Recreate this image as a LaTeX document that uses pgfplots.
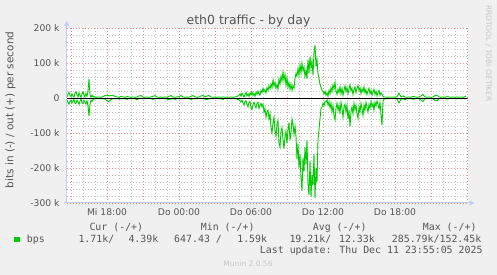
\documentclass[border=0pt]{standalone}
\usepackage{pgfplots}
\pgfplotsset{compat=1.18}
\usepackage{pgfplotstable}
\usepackage{fontspec}
\setmainfont{DejaVu Sans}
\newfontfamily\monof{DejaVu Sans Mono}
\usetikzlibrary{arrows.meta}
\definecolor{bgc}{HTML}{F0F0F0}
\definecolor{grn}{HTML}{00CC00}
\definecolor{txt}{HTML}{555555}
\definecolor{faint}{HTML}{C8C8C8}
\definecolor{majg}{HTML}{EC8C8C}
\definecolor{ming}{HTML}{C4C4C4}
\definecolor{axc}{HTML}{C4CCF4}

% x = 5-minute slots since Wed 00:00 ; values in kbit/s (out positive, in negative)
\pgfplotstableread{
x outb inb
176 3 -5
177 10 -12
178 16 -18
179 8 -10
180 4 -6
181 12 -14
182 6 -8
183 2 -4
184 14 -16
185 18 -15
186 9 -6
187 3 -10
188 15 -18
189 7 -9
190 2 -3
191 12 -13
192 17 -16
193 8 -7
194 3 -12
195 13 -17
196 5 -8
197 20 -22
198 54 -52
199 10 -18
200 2 -6
201 8 -10
202 3 -4
203 5 -3
204 2 -2
205 3 -2
206 2 -1
208 3 -2
210 2 -1
212 4 -2
214 7 -3
216 8 -8
218 6 -10
220 7 -4
222 8 -2
224 4 -2
226 3 -1
228 2 -3
230 5 -2
232 3 -1
234 2 -2
236 4 -4
238 3 -1
240 2 -2
242 3 -1
244 2 -2
246 3 -5
248 6 -2
250 7 -1
252 3 -2
254 2 -1
256 3 -2
258 2 -1
260 3 -2
262 5 -4
264 7 -2
266 3 -1
268 2 -2
270 3 -1
272 2 -2
274 3 -1
276 2 -3
278 5 -5
280 7 -2
282 3 -1
284 2 -4
286 3 -2
288 4 -1
290 7 -2
292 3 -1
294 2 -2
296 3 -1
298 2 -2
300 5 -4
302 7 -2
304 3 -1
306 2 -2
308 3 -1
310 6 -2
312 7 -1
314 3 -3
316 6 -5
318 7 -2
320 3 -1
322 2 -2
324 3 -1
326 2 -2
328 3 -1
330 2 -2
332 3 -4
334 2 -1
336 3 -2
338 2 -1
340 3 -2
342 2 -1
344 3 -2
346 4 -3
348 8 -6
349 12 -8
350 5 -12
351 14 -6
352 8 -14
353 3 -20
354 10 -10
355 16 -8
356 6 -18
357 12 -25
358 4 -12
359 15 -10
360 9 -28
361 18 -33
362 7 -18
363 13 -12
364 5 -22
365 16 -28
366 10 -15
367 20 -12
368 12 -30
369 8 -20
370 22 -15
371 15 -25
372 28 -18
373 18 -40
374 24 -30
375 14 -55
376 30 -40
377 22 -35
378 35 -60
379 26 -45
380 40 -85
381 30 -100
382 52 -70
383 34 -55
384 45 -95
385 28 -110
386 38 -75
387 25 -65
388 55 -130
389 40 -140
390 62 -95
391 48 -85
392 75 -120
393 50 -145
394 68 -110
395 36 -95
396 58 -130
397 30 -90
398 45 -70
399 25 -120
400 40 -100
401 22 -60
402 35 -75
403 28 -105
404 55 -80
405 70 -110
406 62 -175
407 85 -130
408 65 -200
409 95 -160
410 72 -230
411 100 -265
412 78 -170
413 88 -210
414 60 -140
415 80 -190
416 55 -120
417 110 -245
418 70 -277
419 118 -180
420 85 -282
421 105 -220
422 65 -250
423 130 -160
424 151 -287
425 90 -200
426 110 -240
427 70 -120
428 55 -90
429 40 -60
430 30 -30
431 22 -26
432 18 -15
433 12 -22
434 20 -10
435 8 -12
436 15 -5
437 5 -20
438 22 -10
439 12 -28
440 30 -15
441 18 -40
442 38 -22
443 25 -50
444 45 -63
445 20 -30
446 10 -15
447 25 -35
448 15 -20
449 32 -45
450 12 -12
451 28 -30
452 8 -55
453 22 -25
454 35 -18
455 18 -40
456 30 -20
457 12 -60
458 25 -35
459 38 -82
460 20 -40
461 28 -25
462 10 -45
463 24 -15
464 32 -35
465 15 -20
466 28 -45
467 36 -58
468 22 -25
469 30 -40
470 12 -15
471 26 -30
472 18 -50
473 32 -20
474 14 -35
475 24 -12
476 10 -28
477 20 -40
478 28 -18
479 12 -30
480 22 -10
481 8 -25
482 18 -15
483 25 -35
484 10 -12
485 20 -22
486 6 -8
487 16 -18
488 22 -30
489 8 -12
490 15 -50
491 10 -77
492 5 -10
493 3 -3
494 3 -2
496 2 -1
498 3 -2
500 2 -1
502 3 -2
504 2 -1
506 4 -3
508 14 -14
510 3 -4
512 6 -2
514 3 -5
516 2 -1
518 3 -2
520 2 -1
522 5 -4
524 3 -2
526 2 -1
528 3 -2
530 6 -6
532 10 -10
534 3 -2
536 2 -1
538 3 -2
540 2 -1
542 3 -2
544 7 -7
546 8 -8
548 3 -2
550 2 -1
552 3 -2
554 2 -1
556 4 -3
558 3 -2
560 2 -1
562 3 -2
564 2 -1
566 3 -2
568 2 -1
570 3 -2
572 2 -1
574 4 -2
575 6 -2
}\traffic

\begin{document}
\begin{tikzpicture}
\path[use as bounding box, fill=bgc] (0,0) rectangle (497bp,275bp);
\begin{axis}[
  at={(66.7bp,72bp)}, anchor=south west,
  scale only axis, width=401bp, height=175bp,
  xmin=175.7, xmax=576.7, ymin=-300, ymax=200,
  axis background/.style={fill=white},
  axis line style={draw=none},
  major tick length=0pt, minor tick length=0pt,
  xtick={180,216,...,576},
  xticklabels={,Mi 18:00,,Do 00:00,,Do 06:00,,Do 12:00,,Do 18:00,,},
  minor x tick num=2,
  ytick={-300,-200,...,200},
  yticklabels={-300 k,-200 k,-100 k,0,100 k,200 k},
  minor y tick num=4,
  grid=both,
  major grid style={majg, line width=1bp, dash pattern=on 1bp off 2bp},
  minor grid style={ming, line width=1bp, dash pattern=on 1bp off 2bp},
  tick label style={font=\fontsize{9.2bp}{11bp}\selectfont, text=txt, inner sep=0pt},
  yticklabel style={anchor=east, xshift=-7bp},
  xticklabel style={anchor=north, yshift=-5.5bp},
]
\addplot[grn, line width=0.9bp] table[x=x, y=outb]{\traffic};
\addplot[grn, line width=0.9bp] table[x=x, y=inb]{\traffic};
\addplot[black, line width=1bp] coordinates {(175.7,0) (576.7,0)};
\end{axis}
% axis lines with arrows
\draw[axc, line width=1bp, -{Triangle[length=5bp,width=5bp]}] (66.7bp,71.5bp) -- (66.7bp,254bp);
\draw[axc, line width=1bp, -{Triangle[length=5bp,width=5bp]}] (64bp,72bp) -- (474.5bp,72bp);
% texts
\node[font=\fontsize{12.5bp}{14bp}\selectfont, text=txt, anchor=base, inner sep=0pt] at (248.5bp,250.7bp) {eth0 traffic - by day};
\node[rotate=90, font=\fontsize{10.5bp}{12bp}\selectfont, text=txt, inner sep=0pt] at (10.5bp,165bp) {bits in (-) / out (+) per second};
\node[rotate=-90, font=\fontsize{7.5bp}{9bp}\selectfont, text=faint, inner sep=0pt] at (488.5bp,221.5bp) {RRDTOOL / TOBI OETIKER};
% legend
\fill[grn] (14bp,32.7bp) rectangle (19.5bp,38.3bp);
\begin{scope}[every node/.style={font=\monof\fontsize{9.9bp}{12bp}\selectfont, text=txt, inner sep=0pt}]
\node[anchor=base west] at (89.3bp,44.3bp) {Cur (-/+)};
\node[anchor=base west] at (200.7bp,44.3bp) {Min (-/+)};
\node[anchor=base west] at (312.7bp,44.3bp) {Avg (-/+)};
\node[anchor=base west] at (422.7bp,44.3bp) {Max (-/+)};
\node[anchor=base west] at (26.7bp,32.3bp) {bps};
\node[anchor=base west] at (78.3bp,32.3bp) {1.71k/};
\node[anchor=base west] at (128.3bp,32.3bp) {4.39k};
\node[anchor=base west] at (174bp,32.3bp) {647.43 /};
\node[anchor=base east] at (267.3bp,32.3bp) {1.59k};
\node[anchor=base west] at (289.3bp,32.3bp) {19.21k/};
\node[anchor=base east] at (375bp,32.3bp) {12.33k};
\node[anchor=base west] at (391.7bp,32.3bp) {285.79k/152.45k};
\node[anchor=base east] at (482.7bp,21.7bp) {Last update: Thu Dec 11 23:55:05 2025};
\end{scope}
\node[font=\fontsize{7.5bp}{9bp}\selectfont, text=faint, anchor=base, inner sep=0pt] at (248bp,8.3bp) {Munin 2.0.56};
\end{tikzpicture}
\end{document}
